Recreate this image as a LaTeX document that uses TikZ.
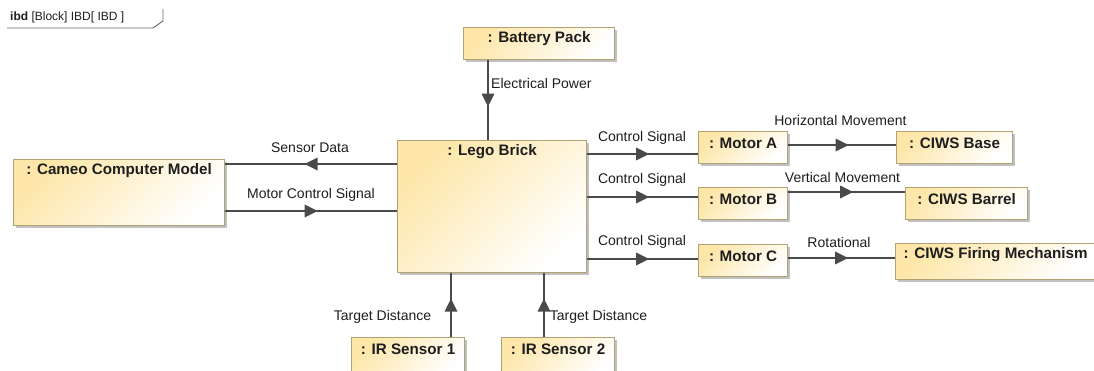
\documentclass[tikz,border=0pt]{standalone}
\usepackage{fontspec}
\setmainfont{Liberation Sans}
\usetikzlibrary{arrows.meta,decorations.markings,shadows}
\definecolor{blkfill}{HTML}{FDE6A8}
\definecolor{blkline}{HTML}{B0A273}
\definecolor{connclr}{HTML}{4A4A4A}
\definecolor{txtclr}{HTML}{1E1E1E}
\tikzset{
  blk/.style={draw=blkline, line width=1.2pt, top color=blkfill, bottom color=white, shading angle=45,
    drop shadow={shadow xshift=2.5pt, shadow yshift=-2.5pt, fill=black!40, opacity=0.6},
    inner sep=0pt, anchor=north west},
  ttl/.style={anchor=center, yshift=-12pt, font=\bfseries\fontsize{15.2}{17}\selectfont, text=txtclr, inner sep=0pt},
  lbl/.style={font=\fontsize{14}{16}\selectfont, text=txtclr, inner sep=0pt},
  flow/.style={draw=connclr, line width=1.3pt, postaction={decorate},
    decoration={markings, mark=at position 0.5 with {\fill[connclr] (6.5pt,0pt) -- (-6.5pt,6.5pt) -- (-6.5pt,-6.5pt) -- cycle;}}},
  tabline/.style={draw=black!60, line width=0.9pt},
}
\begin{document}
\begin{tikzpicture}[x=1pt,y=-1pt]
\useasboundingbox (0,0) rectangle (1094,370);
\clip (0,0) rectangle (1094,370);
\fill[white] (0,0) rectangle (1094,370);

% frame tab
\draw[tabline] (7,28) -- (153,28) -- (163,21) -- (163,9);
\node[anchor=west, font=\fontsize{12}{14}\selectfont, inner sep=0pt, text=txtclr] (tab) at (10,17) {\textbf{ibd} [Block] IBD[ IBD ]};

% blocks
\node[blk, minimum width=151pt, minimum height=32pt, label={[ttl]north:{: Battery Pack}}] (battery) at (463,27) {};
\node[blk, minimum width=189pt, minimum height=132pt, label={[ttl]north:{: Lego Brick}}] (lego) at (397,140) {};
\node[blk, minimum width=211pt, minimum height=66pt, label={[ttl]north:{: Cameo Computer Model}}] (cameo) at (13,159) {};
\node[blk, minimum width=89pt, minimum height=32pt, label={[ttl]north:{: Motor A}}] (motorA) at (698,131) {};
\node[blk, minimum width=89pt, minimum height=32pt, label={[ttl]north:{: Motor B}}] (motorB) at (698,187) {};
\node[blk, minimum width=89pt, minimum height=32pt, label={[ttl]north:{: Motor C}}] (motorC) at (698,244) {};
\node[blk, minimum width=116pt, minimum height=32pt, label={[ttl]north:{: CIWS Base}}] (base) at (896,131) {};
\node[blk, minimum width=122pt, minimum height=32pt, label={[ttl]north:{: CIWS Barrel}}] (barrel) at (905,187) {};
\node[blk, minimum width=200pt, minimum height=36pt, label={[ttl]north:{: CIWS Firing Mechanism}}] (firing) at (895,243) {};
\node[blk, minimum width=113pt, minimum height=40pt, label={[ttl]north:{: IR Sensor 1}}] (ir1) at (351,337) {};
\node[blk, minimum width=113pt, minimum height=40pt, label={[ttl]north:{: IR Sensor 2}}] (ir2) at (501,337) {};

% connectors
\draw[flow] (battery.south -| 488,0) -- (lego.north -| 488,0);
\draw[flow] (lego.west |- 0,164) -- (cameo.east |- 0,164);
\draw[flow] (cameo.east |- 0,211) -- (lego.west |- 0,211);
\draw[flow] (lego.east |- 0,154) -- (motorA.west |- 0,154);
\draw[flow] (lego.east |- 0,197) -- (motorB.west |- 0,197);
\draw[flow] (lego.east |- 0,259) -- (motorC.west |- 0,259);
\draw[flow] (motorA.east |- 0,145) -- (base.west |- 0,145);
\draw[flow] (motorB.east |- 0,192) -- (barrel.west |- 0,192);
\draw[flow] (motorC.east |- 0,258) -- (firing.west |- 0,258);
\draw[flow] (ir1.north -| 451,0) -- (lego.south -| 451,0);
\draw[flow] (ir2.north -| 544,0) -- (lego.south -| 544,0);

% connector labels
\node[lbl, anchor=west] (lep) at (491,83) {Electrical Power};
\node[lbl] (lsd) at (310,148) {Sensor Data};
\node[lbl] (lmcs) at (311,195) {Motor Control Signal};
\node[lbl] (lcs1) at (642,138) {Control Signal};
\node[lbl] (lcs2) at (642,180) {Control Signal};
\node[lbl] (lcs3) at (642,242) {Control Signal};
\node[lbl] (lhm) at (840.5,120) {Horizontal Movement};
\node[lbl] (lvm) at (842.5,177) {Vertical Movement};
\node[lbl] (lrot) at (839,242) {Rotational};
\node[lbl] (ltd1) at (382.5,317) {Target Distance};
\node[lbl] (ltd2) at (598.5,317) {Target Distance};
\end{tikzpicture}
\end{document}
